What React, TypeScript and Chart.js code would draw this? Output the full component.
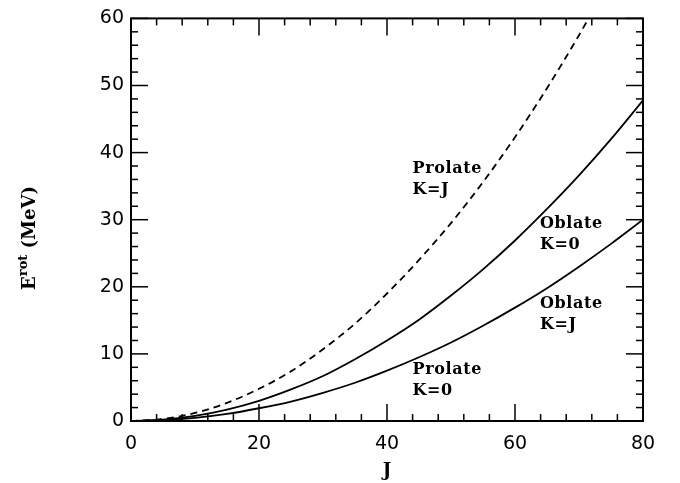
import React, { useEffect, useRef } from "react";
import { Chart, registerables } from "chart.js";

Chart.register(...registerables);

// Angular momentum J
const J = [0, 5, 10, 15, 20, 25, 30, 35, 40, 45, 50, 55, 60, 65, 70, 75, 80];
// Prolate K=J (dashed), leaves the frame near J≈72
const prolateKJ = [0, 0.3, 1.2, 2.7, 4.8, 7.4, 10.7, 14.5, 19.0, 24.0, 29.5, 35.6, 42.3, 49.6, 57.5, 66.0];
// Oblate K=0
const oblateK0 = [0, 0.19, 0.75, 1.7, 3.0, 4.7, 6.7, 9.2, 12.0, 15.1, 18.7, 22.6, 26.9, 31.6, 36.6, 42.0, 47.8];
// Prolate K=0 and Oblate K=J (coincident)
const prolateK0OblateKJ = [0, 0.12, 0.47, 1.05, 1.9, 2.9, 4.2, 5.7, 7.5, 9.5, 11.7, 14.2, 16.9, 19.8, 23.0, 26.4, 30.0];

const xTickValues = [0, 20, 40, 60, 80];
const yTickValues = [0, 10, 20, 30, 40, 50, 60];

const curveLabels = [
  { lines: ["Prolate", "K=J"], x: 44.0, y: 36.9 },
  { lines: ["Oblate", "K=0"], x: 63.9, y: 28.7 },
  { lines: ["Oblate", "K=J"], x: 63.9, y: 16.9 },
  { lines: ["Prolate", "K=0"], x: 44.0, y: 6.95 },
];

const toPoints = (vals: number[]) => vals.map((v, i) => ({ x: J[i], y: v }));

const framePlugin = {
  id: "framePlugin",
  afterDraw(chart: any) {
    const { ctx, chartArea: a, scales } = chart;
    const xs = scales.x;
    const ys = scales.y;
    ctx.save();
    ctx.strokeStyle = "#000";
    ctx.fillStyle = "#000";
    const seg = (x1: number, y1: number, x2: number, y2: number) => {
      ctx.beginPath();
      ctx.moveTo(x1, y1);
      ctx.lineTo(x2, y2);
      ctx.stroke();
    };
    ctx.lineWidth = 1.5;
    for (let v = xs.min; v <= xs.max; v += 4) {
      const px = xs.getPixelForValue(v);
      const len = xTickValues.includes(v) ? 17 : 7;
      seg(px, a.bottom, px, a.bottom - len);
      seg(px, a.top, px, a.top + len);
    }
    for (let v = ys.min; v <= ys.max; v += 2) {
      const py = ys.getPixelForValue(v);
      const len = yTickValues.includes(v) ? 17 : 7;
      seg(a.left, py, a.left + len, py);
      seg(a.right, py, a.right - len, py);
    }
    ctx.lineWidth = 2;
    ctx.strokeRect(a.left, a.top, a.right - a.left, a.bottom - a.top);

    // curve labels
    ctx.font = 'bold 16px "DejaVu Serif"';
    (ctx as any).letterSpacing = "0.6px";
    ctx.textAlign = "left";
    ctx.textBaseline = "alphabetic";
    curveLabels.forEach((l) => {
      const px = xs.getPixelForValue(l.x);
      const py = ys.getPixelForValue(l.y);
      l.lines.forEach((t, i) => ctx.fillText(t, px, py + i * 21));
    });
    (ctx as any).letterSpacing = "0px";

    // x title
    ctx.font = 'bold 18px "DejaVu Serif"';
    ctx.textAlign = "center";
    ctx.fillText("J", (a.left + a.right) / 2, 476);

    // y title with superscript
    ctx.translate(35, 238);
    ctx.rotate(-Math.PI / 2);
    const mainFont = 'bold 18px "DejaVu Serif"';
    const supFont = 'bold 13px "DejaVu Serif"';
    ctx.textAlign = "left";
    ctx.font = mainFont;
    const wE = ctx.measureText("E").width;
    const wRest = ctx.measureText(" (MeV)").width;
    ctx.font = supFont;
    const wSup = ctx.measureText("rot").width;
    const total = wE + wSup + wRest;
    let cx = -total / 2;
    ctx.font = mainFont;
    ctx.fillText("E", cx, 0);
    cx += wE;
    ctx.font = supFont;
    ctx.fillText("rot", cx, -8);
    cx += wSup;
    ctx.font = mainFont;
    ctx.fillText(" (MeV)", cx, 0);
    ctx.restore();
  },
};

export default function App() {
  const ref = useRef<HTMLCanvasElement>(null);
  useEffect(() => {
    document.body.style.margin = "0";
    const canvas = ref.current!;
    const chart = new Chart(canvas, {
      type: "line",
      data: {
        datasets: [
          {
            label: "Prolate K=J",
            data: toPoints(prolateKJ),
            borderColor: "#000",
            borderWidth: 1.8,
            borderDash: [7, 5],
            pointRadius: 0,
            cubicInterpolationMode: "monotone",
            fill: false,
          },
          {
            label: "Oblate K=0",
            data: toPoints(oblateK0),
            borderColor: "#000",
            borderWidth: 1.8,
            pointRadius: 0,
            cubicInterpolationMode: "monotone",
            fill: false,
          },
          {
            label: "Prolate K=0 / Oblate K=J",
            data: toPoints(prolateK0OblateKJ),
            borderColor: "#000",
            borderWidth: 1.8,
            pointRadius: 0,
            cubicInterpolationMode: "monotone",
            fill: false,
          },
        ],
      },
      options: {
        animation: false,
        responsive: false,
        layout: { padding: { top: 15, right: 37, left: 0, bottom: 0 } },
        plugins: { legend: { display: false }, tooltip: { enabled: false } },
        scales: {
          x: {
            type: "linear",
            min: 0,
            max: 80,
            afterBuildTicks: (s: any) => {
              s.ticks = xTickValues.map((v) => ({ value: v }));
            },
            afterFit: (s: any) => {
              s.height = 62;
            },
            ticks: {
              color: "#000",
              font: { family: "DejaVu Sans", size: 19 },
              padding: 12,
              maxRotation: 0,
            },
            grid: { display: false, drawTicks: false },
            border: { display: false },
          },
          y: {
            type: "linear",
            min: 0,
            max: 60,
            afterBuildTicks: (s: any) => {
              s.ticks = yTickValues.map((v) => ({ value: v }));
            },
            afterFit: (s: any) => {
              s.width = 131;
            },
            ticks: {
              color: "#000",
              font: { family: "DejaVu Sans", size: 19 },
              padding: 7,
            },
            grid: { display: false, drawTicks: false },
            border: { display: false },
          },
        },
      },
      plugins: [framePlugin],
    });
    return () => chart.destroy();
  }, []);
  return <canvas ref={ref} width={680} height={483} style={{ display: "block" }} />;
}
